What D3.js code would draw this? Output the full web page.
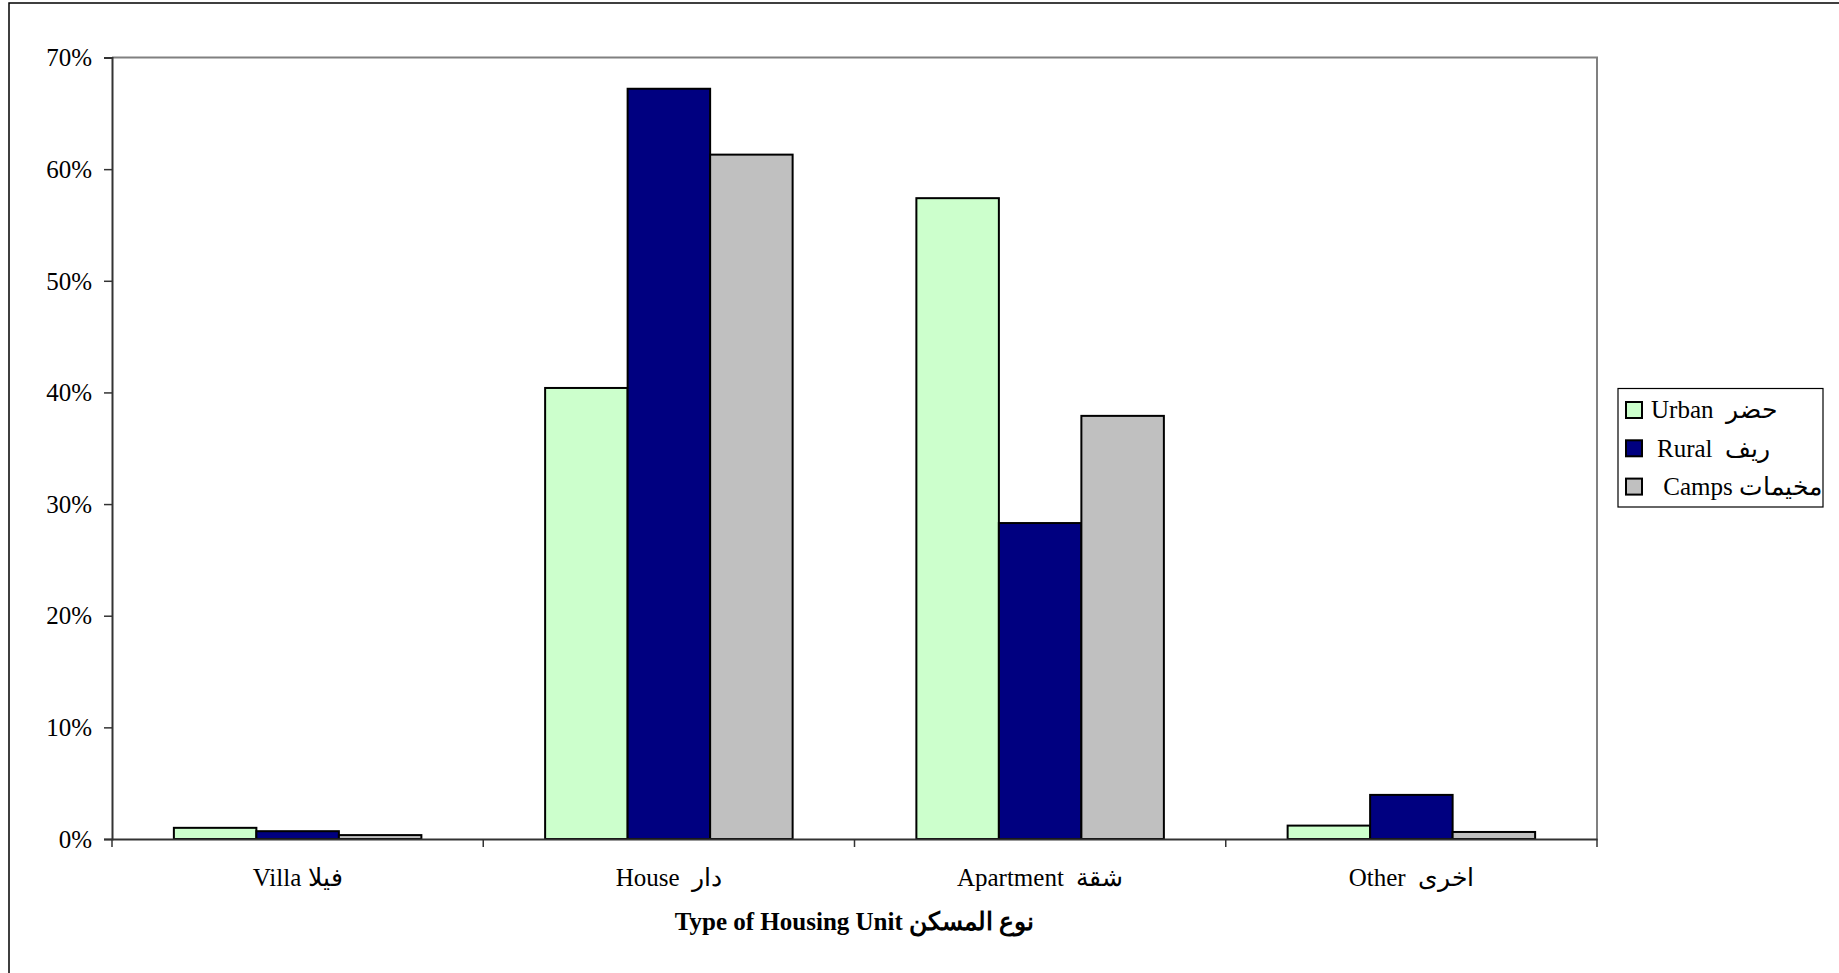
<!DOCTYPE html>
<html>
<head>
<meta charset="utf-8">
<script src="https://cdn.jsdelivr.net/npm/d3@7"></script>
<style>
html,body{margin:0;padding:0;background:#fff;}
svg{display:block;}
text{font-family:"Liberation Serif","Times New Roman",serif;fill:#000;}
</style>
</head>
<body>
<svg id="chart" width="1839" height="973"></svg>
<script>
const categories = ["Villa فيلا", "House  دار", "Apartment  شقة", "Other  اخرى"];
const seriesNames = ["Urban  حضر", "Rural  ريف", " Camps مخيمات"];
const urban = [1.0, 40.4, 57.4, 1.2];
const rural = [0.7, 67.2, 28.3, 3.95];
const camps = [0.35, 61.3, 37.9, 0.63];
const colors = ["#CCFFCC", "#000080", "#C0C0C0"];
const yTicks = [0, 10, 20, 30, 40, 50, 60, 70];
const xTitle = "Type of Housing Unit نوع المسكن";

(function () {
const series = [urban, rural, camps];
const svg = d3.select("#chart");

// outer frame
svg.append("rect").attr("x", 9).attr("y", 3).attr("width", 1840).attr("height", 990)
  .attr("fill", "none").attr("stroke", "#000").attr("stroke-width", 1.5);

const pL = 112, pR = 1597, pT = 57.5, pB = 839;

const x0 = d3.scaleBand().domain(categories).range([pL, pR]).paddingInner(0).paddingOuter(0);
const bw = x0.bandwidth() / 4.5;
const x1 = d3.scaleBand().domain([0, 1, 2]).range([0, bw * 3]);
const y = d3.scaleLinear().domain([0, 70]).range([pB, pT]);

// plot border (top & right grey)
svg.append("path")
  .attr("d", `M${pL},${pT}H${pR}V${pB}`)
  .attr("fill", "none").attr("stroke", "#808080").attr("stroke-width", 2);

// bars
const groups = svg.append("g").selectAll("g").data(categories).join("g")
  .attr("transform", d => `translate(${x0(d) + (x0.bandwidth() - bw * 3) / 2},0)`);
groups.selectAll("rect").data((d, i) => series.map((s, k) => ({k, v: s[i]}))).join("rect")
  .attr("x", d => x1(d.k))
  .attr("width", x1.bandwidth())
  .attr("y", d => y(d.v))
  .attr("height", d => pB - y(d.v))
  .attr("fill", d => colors[d.k])
  .attr("stroke", "#000").attr("stroke-width", 2);

// y axis
const yAxis = d3.axisLeft(y).tickValues(yTicks).tickFormat(d => d + "%").tickSize(8).tickPadding(12);
const gy = svg.append("g").attr("transform", `translate(${pL},0)`).call(yAxis);
gy.select(".domain").attr("stroke", "#333").attr("stroke-width", 2);
gy.selectAll(".tick line").attr("stroke", "#333").attr("stroke-width", 1.5);
gy.selectAll(".tick text").attr("font-size", 25).attr("font-family", "Liberation Serif").attr("fill", "#000").attr("dy", "0.33em");

// x axis
const xAxis = d3.axisBottom(x0).tickSize(0).tickPadding(0);
const gx = svg.append("g").attr("transform", `translate(0,${pB})`).call(xAxis);
gx.select(".domain").attr("stroke", "#333").attr("stroke-width", 2);
gx.selectAll(".tick text").attr("font-size", 25).attr("font-family", "Liberation Serif").attr("fill", "#000")
  .attr("y", 47).attr("dy", 0).attr("direction", "ltr").style("white-space", "pre");
// category boundary ticks
const bounds = categories.map(c => x0(c)).concat([pR]);
gx.selectAll("line.sep").data(bounds).join("line").attr("class", "sep")
  .attr("x1", d => d).attr("x2", d => d).attr("y1", 0).attr("y2", 8)
  .attr("stroke", "#333").attr("stroke-width", 1.5);

// x title
svg.append("text").attr("x", (pL + pR) / 2).attr("y", 930)
  .attr("text-anchor", "middle").attr("font-size", 25).attr("font-weight", "bold")
  .attr("direction", "ltr").text(xTitle);

// legend
const lg = svg.append("g");
lg.append("rect").attr("x", 1618).attr("y", 388.5).attr("width", 205).attr("height", 118.5)
  .attr("fill", "#fff").attr("stroke", "#000").attr("stroke-width", 1.2);
const textX = [1651, 1657, 1657];
seriesNames.forEach((n, i) => {
  const cy = 410 + i * 38.3;
  lg.append("rect").attr("x", 1626).attr("y", cy - 8).attr("width", 16).attr("height", 16)
    .attr("fill", colors[i]).attr("stroke", "#000").attr("stroke-width", 2);
  lg.append("text").attr("x", textX[i]).attr("y", cy).attr("dy", "0.33em")
    .attr("font-size", 25).attr("direction", "ltr")
    .style("white-space", "pre").text(n);
});
})();
</script>
</body>
</html>
